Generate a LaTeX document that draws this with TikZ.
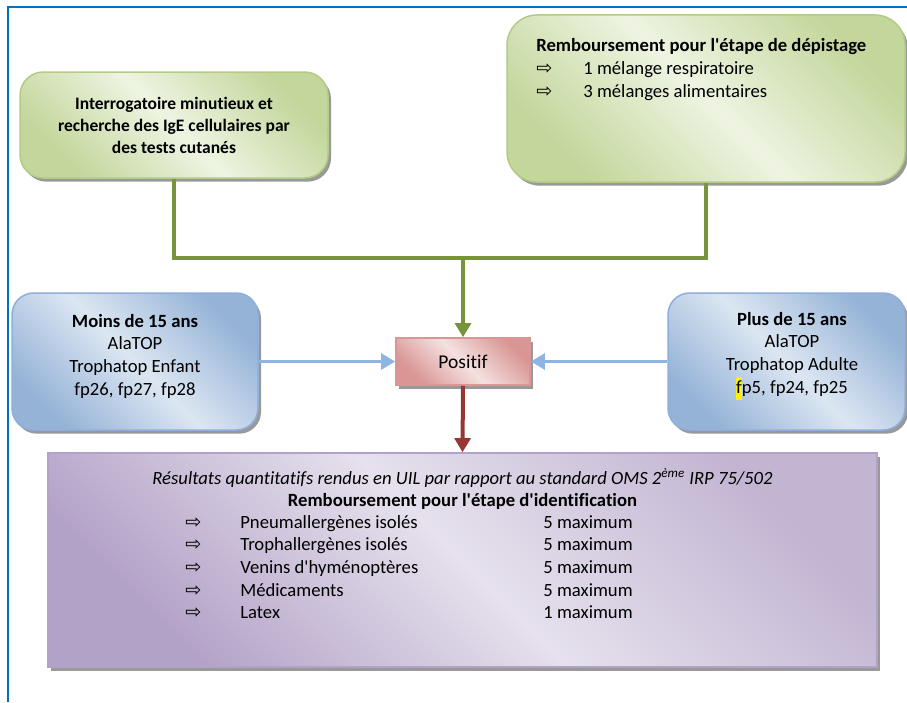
\documentclass[tikz,border=0pt]{standalone}
\usepackage{fontspec}
\setmainfont{Carlito}[Ligatures={TeX,NoCommon}]
\newfontfamily\arrowfont{DejaVu Sans}
\usetikzlibrary{arrows.meta, positioning, shadows}

\definecolor{frameblue}{HTML}{0070C0}
\definecolor{greenlight}{HTML}{EEF4E2}
\definecolor{greendark}{HTML}{C3D69B}
\definecolor{greenedge}{HTML}{B3CB84}
\definecolor{greenline}{HTML}{77933C}
\definecolor{bluelight}{HTML}{DCE6F2}
\definecolor{bluedark}{HTML}{95B3D7}
\definecolor{blueedge}{HTML}{8FAEDA}
\definecolor{blueline}{HTML}{8EB4E3}
\definecolor{redlight}{HTML}{F4E1E0}
\definecolor{reddark}{HTML}{D99694}
\definecolor{redline}{HTML}{953735}
\definecolor{purplelight}{HTML}{E6E1ED}
\definecolor{purpledark}{HTML}{B3A2C7}
\definecolor{shadowgray}{HTML}{8E8E8E}

\newcommand\puce{{\arrowfont\fontsize{11.5}{12}\selectfont ⇨}}
\newcommand\apos{\textquotesingle}

\begin{document}
\begin{tikzpicture}
   [
      x=0.6pt, y=-0.6pt,
      font=\fontsize{11.2}{13.6}\selectfont,
      shadowed/.style={drop shadow={shadow xshift=1.8pt, shadow yshift=-2.2pt,
                       fill=shadowgray, opacity=0.9}},
      box/.style={rectangle, line width=0.9pt, inner sep=0pt, shadowed},
      green box/.style={box, draw=greenedge, rounded corners=14pt,
                        top color=greendark, bottom color=greendark,
                        middle color=greenlight, shading angle=135},
      blue box/.style={box, draw=blueedge, rounded corners=13pt,
                       top color=bluedark, bottom color=bluedark,
                       middle color=bluelight, shading angle=135},
      red box/.style={box, draw=reddark,
                      top color=reddark, bottom color=reddark,
                      middle color=redlight, shading angle=135},
      purple box/.style={box, draw=purpledark,
                         top color=purpledark, bottom color=purpledark!80,
                         middle color=purplelight, shading angle=135},
      box text/.style={align=center, inner sep=0pt},
      list text/.style={inner sep=0pt, anchor=base west},
      tip/.style={-{Triangle[width=9.5pt, length=8.5pt]}},
      green line/.style={line width=2.4pt, greenline},
      blue arrow/.style={tip, line width=2.2pt, blueline},
      red arrow/.style={tip, line width=2.4pt, redline},
      frame line/.style={line width=1.3pt, frameblue}
   ]

   \useasboundingbox (0,0) rectangle (907,702);

   % =======================================================
   % Frame
   % =======================================================
   \draw[frame line] (8,702) -- (8,7) -- (907,7);

   % =======================================================
   % Top boxes
   % =======================================================

   % Interrogatoire
   \node[green box, minimum width=184.8pt, minimum height=63.6pt,
         font=\fontsize{10.5}{13.2}\selectfont\bfseries, align=center]
         (interro) at (174,125)
         {Interrogatoire minutieux et\\recherche des IgE cellulaires par\\des tests cutanés};

   % Depistage
   \node[green box, rounded corners=18pt, minimum width=238.8pt, minimum height=100.2pt]
         (depistage) at (706,98.5) {};
   \node[list text] (deplist) at (536,52)
         {\begin{tabular}[t]{@{}p{28.2pt}@{}l@{}}
            \multicolumn{2}{@{}l@{}}{\bfseries Remboursement pour l\apos étape de dépistage}\\
            \puce & 1 mélange respiratoire\\
            \puce & 3 mélanges alimentaires
          \end{tabular}};

   % =======================================================
   % Middle row
   % =======================================================

   % Positif
   \node[red box, minimum width=80.4pt, minimum height=28.2pt,
         font=\fontsize{11.7}{14}\selectfont]
         (positif) at (463,361.5) {Positif};

   % Age boxes
   \node[blue box, minimum width=147.6pt, minimum height=82.2pt]
         (moins) at (135,361.5) {};
   \node[box text] (moinstext) at (135,356)
         {\textbf{Moins de 15 ans}\\AlaTOP\\Trophatop Enfant\\fp26, fp27, fp28};

   \node[blue box, minimum width=142.2pt, minimum height=82.2pt]
         (plus) at (786.5,361.5) {};
   \node[box text] (plustext) at (792,356)
         {\textbf{Plus de 15 ans}\\AlaTOP\\Trophatop Adulte\\%
          {\fboxsep=0pt\colorbox{yellow}{\strut f}}p5, fp24, fp25};

   % =======================================================
   % Bottom box: identification
   % =======================================================
   \node[purple box, minimum width=497.4pt, minimum height=128.4pt]
         (identif) at (462.5,560) {};
   \node[inner sep=0pt, font=\fontsize{11.2}{13.6}\selectfont\itshape] (idnote) at (462.5,478)
         {Résultats quantitatifs rendus en UIL par rapport au standard OMS 2\textsuperscript{ème} IRP 75/502};
   \node[inner sep=0pt, font=\fontsize{11.2}{13.6}\selectfont\bfseries] (idtitle) at (462.5,501)
         {Remboursement pour l\apos étape d\apos identification};
   \node[list text] (idlist) at (185,528)
         {\begin{tabular}[t]{@{}p{33pt}@{}p{181.8pt}@{}l@{}}
            \puce & Pneumallergènes isolés & 5 maximum\\
            \puce & Trophallergènes isolés & 5 maximum\\
            \puce & Venins d\apos hyménoptères & 5 maximum\\
            \puce & Médicaments & 5 maximum\\
            \puce & Latex & 1 maximum
          \end{tabular}};

   % =======================================================
   % Connectors
   % =======================================================
   \coordinate (join) at (463,258);
   \draw[green line] (interro.south) |- (join);
   \draw[green line] (depistage.south) |- (join);
   \draw[green line, tip] (join) -- (positif.north);

   \draw[blue arrow] (moins.east) -- (positif.west);
   \draw[blue arrow] (plus.west) -- (positif.east);

   \draw[red arrow] (positif.south) -- (identif.north);

\end{tikzpicture}
\end{document}
